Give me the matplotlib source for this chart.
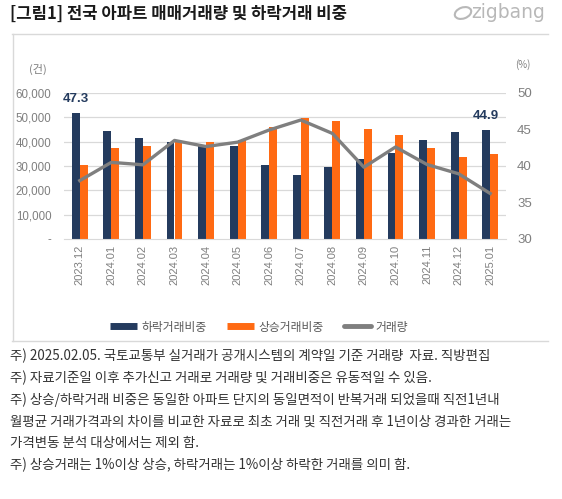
import numpy as np
import matplotlib
matplotlib.use("Agg")
import matplotlib.pyplot as plt
from matplotlib.lines import Line2D
from matplotlib.patches import Ellipse

plt.rcParams['font.family'] = ['Noto Sans CJK KR', 'DejaVu Sans']

# data
months = ['2023.12', '2024.01', '2024.02', '2024.03', '2024.04', '2024.05', '2024.06',
          '2024.07', '2024.08', '2024.09', '2024.10', '2024.11', '2024.12', '2025.01']
fall_share = [47.3, 44.8, 43.9, 43.3, 42.7, 42.7, 40.2, 38.8, 39.8, 40.9, 41.8, 43.6, 44.7, 44.9]
rise_share = [40.1, 42.4, 42.8, 43.3, 43.3, 43.5, 45.3, 46.6, 46.1, 45.0, 44.2, 42.5, 41.3, 41.6]
volume = [24000, 31500, 30500, 40500, 38000, 39800, 44800, 48900, 43400, 29500, 37800, 30600, 26800, 18700]

left_ticks = [0, 10000, 20000, 30000, 40000, 50000, 60000]
left_labels = ['-', '10,000', '20,000', '30,000', '40,000', '50,000', '60,000']
right_ticks = [30, 35, 40, 45, 50]

navy = '#243B5E'
orange = '#FF6A13'
grey_line = '#7F7F7F'
tick_grey = '#7F7F7F'
grid_grey = '#D9D9D9'

W, H = 562, 499
fig = plt.figure(figsize=(W / 100, H / 100), dpi=100)

ax = fig.add_axes([64 / W, 1 - 239 / H, 442 / W, 146 / H])
ax2 = ax.twinx()
x = np.arange(len(months))
bw = 0.25

# gridlines follow the left axis ticks
for i in range(1, 7):
    ax.axhline(30 + i * 20 / 6, color=grid_grey, lw=0.9, zorder=0)

ax.bar(x - bw / 2, fall_share, bw, color=navy, zorder=2)
ax.bar(x + bw / 2, rise_share, bw, color=orange, zorder=2)
ax.set_ylim(30, 50)
ax.set_xlim(-0.5, len(months) - 0.5)
ax.yaxis.set_ticks_position('right')
ax.set_yticks(right_ticks)
ax.set_yticklabels([str(t) for t in right_ticks], fontfamily='Liberation Sans')
ax.tick_params(axis='y', left=False, labelleft=False, right=False, labelright=True,
               length=0, pad=8, labelsize=9.5, labelcolor=tick_grey)
ax.set_xticks(x)
ax.set_xticklabels(months, rotation=90, fontfamily='Liberation Sans')
ax.tick_params(axis='x', length=0, pad=4, labelsize=8, labelcolor=tick_grey)
for s in ['top', 'left', 'right']:
    ax.spines[s].set_visible(False)
ax.spines['bottom'].set_color(grid_grey)

# first and last data labels
for i in [0, len(months) - 1]:
    ax.annotate(f'{fall_share[i]:.1f}', (x[i] - bw / 2, fall_share[i]), xytext=(0, 10),
                textcoords='offset points', ha='center', va='center', fontsize=9.5,
                fontweight='bold', color=navy, fontfamily='Liberation Sans')

ax2.plot(x, volume, color=grey_line, lw=2.4, zorder=3)
ax2.set_ylim(0, 60000)
ax2.yaxis.set_ticks_position('left')
ax2.set_yticks(left_ticks)
ax2.set_yticklabels(left_labels, fontfamily='Liberation Sans')
ax2.tick_params(axis='y', left=False, labelleft=True, right=False, labelright=False,
                length=0, pad=9, labelsize=8.3, labelcolor=tick_grey)
for s in ax2.spines.values():
    s.set_visible(False)

fig.text(38 / W, 1 - 69 / H, '(건)', ha='center', va='center', fontsize=8, color=tick_grey)
fig.text(523 / W, 1 - 65 / H, '(%)', ha='center', va='center', fontsize=7, color=tick_grey)

# legend
handles = [Line2D([], [], color=navy, lw=5, solid_capstyle='butt'),
           Line2D([], [], color=orange, lw=5, solid_capstyle='butt'),
           Line2D([], [], color=grey_line, lw=3.5, solid_capstyle='round')]
fig.legend(handles, ['하락거래비중', '상승거래비중', '거래량'], loc='center',
           bbox_to_anchor=(259 / W, 1 - 327 / H), ncol=3, frameon=False, fontsize=8.5,
           labelcolor='#595959', handlelength=2.3, handletextpad=0.4, columnspacing=1.7)

# title and logo
fig.text(10 / W, 1 - 14 / H, '[그림1] 전국 아파트 매매거래량 및 하락거래 비중', ha='left', va='center',
         fontsize=12, fontweight='bold', color='#1A1A1A')
fig.text(545 / W, 1 - 13 / H, 'zigbang', ha='right', va='center', fontsize=13.5,
         color='#B8B8B8', fontfamily='DejaVu Sans')
fig.patches.append(Ellipse((4.63, (H - 13) / 100), 0.17, 0.11, angle=20, fill=False,
                           lw=1.5, edgecolor='#B8B8B8', transform=fig.dpi_scale_trans))

# chart box
box_kw = dict(color=grid_grey, lw=1, transform=fig.transFigure)
fig.add_artist(Line2D([12 / W, 548 / W], [1 - 33.5 / H, 1 - 33.5 / H], **box_kw))
fig.add_artist(Line2D([12.5 / W, 12.5 / W], [1 - 33.5 / H, 1 - 341 / H], **box_kw))
fig.add_artist(Line2D([12 / W, 548 / W], [1 - 341 / H, 1 - 341 / H], **box_kw))

notes = [
    '주) 2025.02.05. 국토교통부 실거래가 공개시스템의 계약일 기준 거래량  자료. 직방편집',
    '주) 자료기준일 이후 추가신고 거래로 거래량 및 거래비중은 유동적일 수 있음.',
    '주) 상승/하락거래 비중은 동일한 아파트 단지의 동일면적이 반복거래 되었을때 직전1년내',
    '월평균 거래가격과의 차이를 비교한 자료로 최초 거래 및 직전거래 후 1년이상 경과한 거래는',
    '가격변동 분석 대상에서는 제외 함.',
    '주) 상승거래는 1%이상 상승, 하락거래는 1%이상 하락한 거래를 의미 함.',
]
for k, line in enumerate(notes):
    fig.text(10 / W, 1 - (356 + k * 21.8) / H, line, ha='left', va='center',
             fontsize=9.7, color='#333333')

fig.savefig('out.png', dpi=100)
